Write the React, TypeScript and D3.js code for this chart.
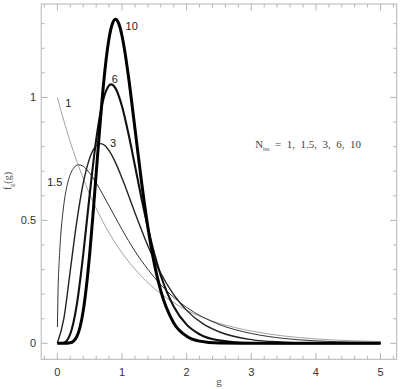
import * as d3 from "d3";

// f_g(g) for each N_iss value
const G1 = [0, 0.1, 0.25, 0.5, 0.75, 1, 1.25, 1.5, 1.75, 2, 2.5, 3, 3.5, 4, 4.5, 5];
const F1 = [1.0, 0.905, 0.779, 0.607, 0.472, 0.368, 0.287, 0.223, 0.174, 0.135, 0.082, 0.05, 0.03, 0.018, 0.011, 0.007];

const G15 = [0.001, 0.01, 0.03, 0.05, 0.1, 0.15, 0.2, 0.25, 0.33, 0.4, 0.5, 0.6, 0.7, 0.8, 1, 1.2, 1.4, 1.6, 1.8, 2, 2.5, 3, 3.5, 4, 4.5, 5];
const F15 = [0.066, 0.204, 0.343, 0.43, 0.564, 0.641, 0.687, 0.712, 0.726, 0.72, 0.692, 0.653, 0.607, 0.559, 0.463, 0.375, 0.301, 0.238, 0.187, 0.146, 0.077, 0.04, 0.02, 0.01, 0.005, 0.003];

const G3 = [0, 0.1, 0.2, 0.3, 0.4, 0.5, 0.6, 0.67, 0.7, 0.8, 0.9, 1, 1.2, 1.4, 1.6, 1.8, 2, 2.25, 2.5, 3, 3.5, 4, 5];
const F3 = [0, 0.1, 0.296, 0.494, 0.651, 0.753, 0.803, 0.812, 0.81, 0.784, 0.735, 0.672, 0.531, 0.397, 0.285, 0.198, 0.134, 0.08, 0.047, 0.015, 0.005, 0.001, 0];

const G6 = [0, 0.1, 0.2, 0.3, 0.4, 0.5, 0.6, 0.7, 0.8, 0.83, 0.9, 1, 1.1, 1.2, 1.3, 1.4, 1.5, 1.6, 1.8, 2, 2.2, 2.5, 3, 3.5, 5];
const F6 = [0, 0.002, 0.038, 0.156, 0.361, 0.605, 0.826, 0.98, 1.049, 1.053, 1.037, 0.964, 0.852, 0.723, 0.592, 0.471, 0.364, 0.276, 0.15, 0.076, 0.037, 0.012, 0.001, 0, 0];

const G10 = [0, 0.1, 0.2, 0.3, 0.4, 0.5, 0.55, 0.6, 0.65, 0.7, 0.75, 0.8, 0.85, 0.9, 0.95, 1, 1.05, 1.1, 1.2, 1.3, 1.4, 1.5, 1.6, 1.8, 2, 2.2, 2.5, 3, 5];
const F10 = [0, 0, 0.002, 0.027, 0.132, 0.363, 0.519, 0.689, 0.858, 1.014, 1.144, 1.241, 1.299, 1.318, 1.3, 1.251, 1.177, 1.085, 0.874, 0.661, 0.473, 0.324, 0.213, 0.083, 0.029, 0.009, 0.001, 0, 0];

const SERIES = [
  { g: G1, f: F1, color: "#8a8a8a", width: 0.8 },
  { g: G15, f: F15, color: "#333", width: 1 },
  { g: G3, f: F3, color: "#222", width: 1.4 },
  { g: G6, f: F6, color: "#111", width: 2.1 },
  { g: G10, f: F10, color: "#000", width: 3 },
];

const CURVE_LABELS = ["1", "1.5", "3", "6", "10"];
const LABEL_G = [0.17, -0.04, 0.86, 0.89, 1.15];
const LABEL_F = [0.975, 0.656, 0.815, 1.075, 1.29];

const X_TICK_LABELS = [0, 1, 2, 3, 4, 5];
const Y_TICK_LABELS = [0, 0.5, 1];

const W = 400;
const H = 389;
const left = 41.2, right = 396.7, top = 4, bottom = 359.3;

export default function App() {
  const x = d3.scaleLinear().domain([-0.25, 5.25]).range([left, right]);
  const y = d3.scaleLinear().domain([-0.065, 1.38]).range([bottom, top]);

  const line = d3.line<[number, number]>()
    .x((d) => x(d[0]))
    .y((d) => y(d[1]))
    .curve(d3.curveMonotoneX);

  // tick positions: x every 0.2, y every 0.1
  const xMinor = d3.range(-1, 27).map((i) => +(i * 0.2).toFixed(2))
    .filter((v) => v > -0.25 && v < 5.25);
  const yMinor = d3.range(0, 14).map((i) => +(i * 0.1).toFixed(2));
  const isXMajor = (v: number) => Math.abs(v - Math.round(v)) < 1e-6;
  const isYMajor = (v: number) => Math.abs(v * 2 - Math.round(v * 2)) < 1e-6;

  const frame = "#b5b5b5";
  const tickFont = "'Liberation Sans', Arial, sans-serif";
  const serif = "'Liberation Serif', 'Times New Roman', serif";

  return (
    <svg width={W} height={H} style={{ position: "absolute", left: 0, top: 0, background: "#fff" }}>
      <rect x={left} y={top} width={right - left} height={bottom - top} fill="none" stroke={frame} strokeWidth={1} />

      {/* ticks on all four sides, pointing inward */}
      {xMinor.map((v) => {
        const len = isXMajor(v) ? 6.5 : 3.5;
        return (
          <g key={"xt" + v} stroke={frame} strokeWidth={1}>
            <line x1={x(v)} x2={x(v)} y1={bottom} y2={bottom - len} />
            <line x1={x(v)} x2={x(v)} y1={top} y2={top + len} />
          </g>
        );
      })}
      {yMinor.map((v) => {
        const len = isYMajor(v) ? 6.5 : 3.5;
        return (
          <g key={"yt" + v} stroke={frame} strokeWidth={1}>
            <line x1={left} x2={left + len} y1={y(v)} y2={y(v)} />
            <line x1={right} x2={right - len} y1={y(v)} y2={y(v)} />
          </g>
        );
      })}

      {X_TICK_LABELS.map((v) => (
        <text key={"xl" + v} x={x(v)} y={375.5} textAnchor="middle" fontFamily={tickFont} fontSize={11} fill="#333">
          {v}
        </text>
      ))}
      {Y_TICK_LABELS.map((v) => (
        <text key={"yl" + v} x={36} y={y(v)} dy="0.35em" textAnchor="end" fontFamily={tickFont} fontSize={11} fill="#333">
          {v}
        </text>
      ))}

      {/* axis titles */}
      <text x={(left + right) / 2} y={385} textAnchor="middle" fontFamily={serif} fontSize={11} fill="#555">g</text>
      <text transform={`translate(11,181) rotate(-90)`} textAnchor="middle" fontFamily={serif} fontSize={10} fill="#555">
        f<tspan fontSize={6} dy={2.5}>g</tspan><tspan dy={-2.5}>(g)</tspan>
      </text>

      {SERIES.map((s, i) => (
        <path
          key={"s" + i}
          d={line(s.g.map((g, j) => [g, s.f[j]] as [number, number])) || ""}
          fill="none"
          stroke={s.color}
          strokeWidth={s.width}
          strokeLinejoin="round"
        />
      ))}

      {CURVE_LABELS.map((t, i) => (
        <text key={"cl" + t} x={x(LABEL_G[i])} y={y(LABEL_F[i])} dy="0.35em" textAnchor="middle" fontFamily={tickFont} fontSize={11} fill="#222">
          {t}
        </text>
      ))}

      <text x={x(3.06)} y={y(0.81)} dy="0.35em" fontFamily={serif} fontSize={11} fill="#444" style={{ whiteSpace: "pre" }}>
        N<tspan fontSize={6} dy={2.5}>iss</tspan><tspan dy={-2.5}>{"  =  1,  1.5,  3,  6,  10"}</tspan>
      </text>
    </svg>
  );
}
